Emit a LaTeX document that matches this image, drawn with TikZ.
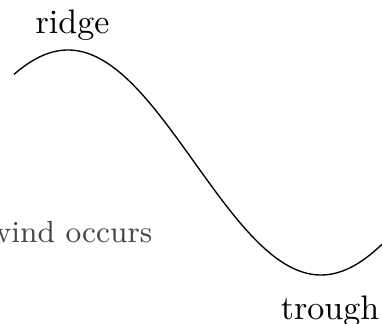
\documentclass[tikz,border=0pt]{standalone}
\usetikzlibrary{positioning}

\begin{document}
\begin{tikzpicture}[
  x=0.294pt, y=-0.294pt,
  lbl/.style={inner sep=0pt, anchor=base, font=\normalsize},
  note/.style={inner sep=0pt, anchor=base east, font=\small, text=black!72},
  wave/.style={black, line width=0.4pt},
]
  \useasboundingbox (0,0) rectangle (382,324);
  \clip (0,0) rectangle (382,324);

  % wave
  \draw[wave, smooth, samples=80, domain=14:382]
    plot (\x, {162.5-112.5*cos((\x-68)/253*180)});

  \node[lbl] (ridge) at (72.5,34) {ridge};
  \node[lbl] (trough) at (330,319) {trough};
  \node[note] (wind) at (153,243) {wind occurs};
\end{tikzpicture}
\end{document}
